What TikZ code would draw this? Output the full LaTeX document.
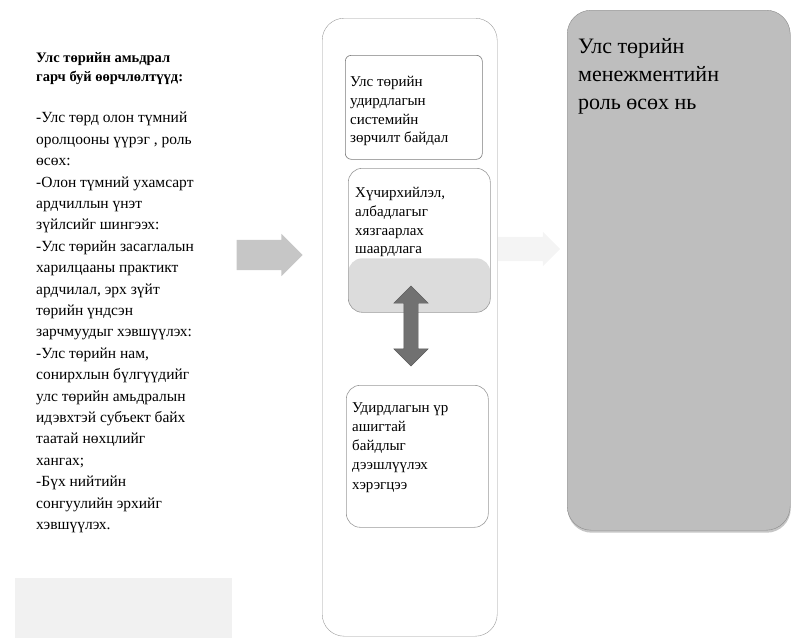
\documentclass[tikz,border=0pt]{standalone}
\usepackage{fontspec}
\setmainfont{Liberation Serif}
\usetikzlibrary{shapes.arrows}
\usetikzlibrary{shadows}

\definecolor{rolegray}{HTML}{BEBEBE}
\definecolor{roleline}{HTML}{8A8A8A}
\definecolor{boxline}{HTML}{9A9A9A}
\definecolor{boxshade}{HTML}{DCDCDC}
\definecolor{linkgray}{HTML}{717171}
\definecolor{flowgray}{HTML}{C6C6C6}

\begin{document}
\begin{tikzpicture}[x=1pt, y=-1pt,
	listtext/.style={inner sep=0pt, align=left, anchor=north west, font=\fontsize{15.5}{21.4}\selectfont},
	boxtext/.style={inner sep=0pt, align=left, anchor=north west, font=\fontsize{15}{18.8}\selectfont},
	causebox/.style={draw=boxline, semithick, rounded corners=14pt, anchor=north west, inner sep=0pt}]
		\useasboundingbox (0,0) rectangle (800,638);
		\fill[gray!11] (15,578) rectangle (232,638); % pale patch at the bottom left

		% left column
		\node[listtext, font=\fontsize{14.5}{19.5}\selectfont\bfseries] (title) at (36,52) {Улс төрийн амьдрал\\гарч буй өөрчлөлтүүд:};
		\node[listtext] (changes) at (36,112) {-Улс төрд олон түмний\\оролцооны үүрэг , роль\\өсөх:\\-Олон түмний ухамсарт\\ардчиллын үнэт\\зүйлсийг шингээх:\\-Улс төрийн засаглалын\\харилцааны практикт\\ардчилал, эрх зүйт\\төрийн үндсэн\\зарчмуудыг хэвшүүлэх:\\-Улс төрийн нам,\\сонирхлын бүлгүүдийг\\улс төрийн амьдралын\\идэвхтэй субъект байх\\таатай нөхцлийг\\хангах;\\-Бүх нийтийн\\сонгуулийн эрхийг\\хэвшүүлэх.};

		% middle column
		\node[draw=boxline, rounded corners=22pt, anchor=north west, minimum width=175pt, minimum height=618pt, inner sep=0pt] (causes) at (322,18) {};
		\node[causebox, draw=boxline!80!black, rounded corners=6pt, minimum width=137pt, minimum height=104pt] (cause1) at (345,55) {};
		\node[causebox, minimum width=142pt, minimum height=144pt, path picture={\fill[boxshade] (path picture bounding box.south west) rectangle ([yshift=54pt]path picture bounding box.south east);}] (cause2) at (348,168) {};
		\node[causebox, minimum width=142pt, minimum height=142pt] (cause3) at (346,385) {};
		\node[boxtext] at (350,76) {Улс төрийн\\удирдлагын\\системийн\\зөрчилт байдал};
		\node[boxtext] at (355,187) {Хүчирхийлэл,\\албадлагыг\\хязгаарлах\\шаардлага};
		\node[boxtext, font=\fontsize{15}{19.3}\selectfont] at (352,402) {Удирдлагын үр\\ашигтай\\байдлыг\\дээшлүүлэх\\хэрэгцээ};
		\node[double arrow, rotate=90, fill=linkgray, draw=linkgray!80!black, minimum height=80pt, inner xsep=0pt, inner ysep=7pt, double arrow head extend=10pt] (link) at (411,326) {};

		% right column
		\node[fill=rolegray, draw=roleline, rounded corners=24pt, anchor=north west, minimum width=223pt, minimum height=520pt, inner sep=0pt, drop shadow={shadow xshift=0.5pt, shadow yshift=-2.5pt, fill=black!45}] (role) at (567,10) {};
		\node[listtext, font=\fontsize{22}{28}\selectfont] at (578,38) {Улс төрийн\\менежментийн\\роль өсөх нь};

		% flow arrows
		\node[single arrow, fill=flowgray, minimum height=66pt, inner xsep=0pt, inner ysep=15pt, single arrow head extend=6pt] (flowin) at (262,255) {};
		\node[single arrow, fill=gray!9, minimum height=62pt, inner xsep=0pt, inner ysep=12pt, single arrow head extend=5pt] (flowout) at (523,249) {};
	\end{tikzpicture}
\end{document}
